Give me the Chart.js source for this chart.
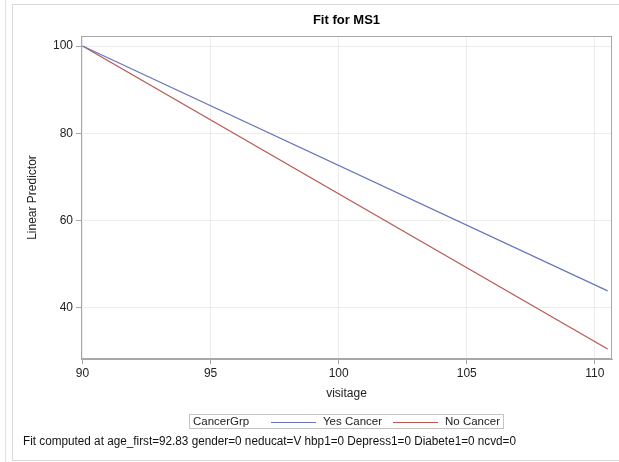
<!DOCTYPE html>
<html lang="en">
<head>
    <meta charset="UTF-8">
    <title>Fit for MS1</title>
    <script src="https://cdn.jsdelivr.net/npm/chart.js@4.4.1/dist/chart.umd.min.js"></script>
    <style>
        html, body { margin: 0; padding: 0; background: #fff; }
        #wrap { width: 619px; height: 462px; position: relative; }
    </style>
</head>
<body>
<div id="wrap"><canvas id="fitChart"></canvas></div>
<script>
    // fitted linear predictor at both ends of the visitage range
    const visitage = [90, 110.5];
    const yesCancer = [100, 43.9];
    const noCancer = [100, 30.6];
    const groupLabels = ["Yes Cancer", "No Cancer"];
    const xTicks = [90, 95, 100, 105, 110];
    const yTicks = [40, 60, 80, 100];
    const footnote = "Fit computed at age_first=92.83 gender=0 neducat=V hbp1=0 Depress1=0 Diabete1=0 ncvd=0";

    const FONT = "Arial, 'Liberation Sans', sans-serif";

    function toPoints(ys){
        return visitage.map((x, i) => ({x: x, y: ys[i]}));
    }

    // frame, title, axis titles, legend and footnote drawn by hand
    const decorations = {
        id: "decorations",
        beforeDraw(chart){
            const ctx = chart.ctx;
            ctx.save();
            ctx.fillStyle = "#fff";
            ctx.fillRect(0, 0, chart.width, chart.height);
            ctx.strokeStyle = "#e2e2e2";
            ctx.lineWidth = 1;
            ctx.beginPath();
            ctx.moveTo(5.5, 0);
            ctx.lineTo(5.5, chart.height);
            ctx.stroke();
            ctx.strokeStyle = "#dadada";
            ctx.strokeRect(12.5, 4.5, chart.width + 5, 456);
            ctx.restore();
        },
        afterDraw(chart){
            const ctx = chart.ctx;
            const a = chart.chartArea;
            ctx.save();
            ctx.strokeStyle = "#a8a8a8";
            ctx.lineWidth = 1;
            ctx.strokeRect(Math.round(a.left) + 0.5, Math.round(a.top) + 0.5,
                Math.round(a.right - a.left) - 1, Math.round(a.bottom - a.top) - 1);

            ctx.fillStyle = "#000";
            ctx.textAlign = "center";
            ctx.textBaseline = "middle";
            ctx.font = "bold 13px " + FONT;
            ctx.fillText("Fit for MS1", (a.left + a.right) / 2, 20);

            ctx.fillStyle = "#222";
            ctx.font = "12px " + FONT;
            ctx.fillText("visitage", (a.left + a.right) / 2, 394);
            ctx.save();
            ctx.translate(33, (a.top + a.bottom) / 2);
            ctx.rotate(-Math.PI / 2);
            ctx.fillText("Linear Predictor", 0, 0);
            ctx.restore();

            // legend
            ctx.strokeStyle = "#c4c4c4";
            ctx.strokeRect(189.5, 414.5, 314, 14);
            ctx.textAlign = "left";
            ctx.fillStyle = "#222";
            ctx.font = "11.5px " + FONT;
            let x = 193;
            const ly = 422;
            ctx.fillText("CancerGrp", x, ly);
            x = 271;
            chart.data.datasets.forEach(ds => {
                ctx.strokeStyle = ds.borderColor;
                ctx.lineWidth = 1.2;
                ctx.beginPath();
                ctx.moveTo(x, ly + 0.5);
                ctx.lineTo(x + 45, ly + 0.5);
                ctx.stroke();
                ctx.fillText(ds.label, x + 52, ly);
                x += 122;
            });

            ctx.fillStyle = "#111";
            ctx.font = "12px " + FONT;
            ctx.fillText(footnote, 23, 442, 493);
            ctx.restore();
        }
    };

    new Chart("fitChart", {
        type: "line",
        data: {
            datasets: [{
                label: groupLabels[0],
                data: toPoints(yesCancer),
                borderColor: "#6676b8",
                borderWidth: 1.2,
                pointRadius: 0,
                fill: false
            }, {
                label: groupLabels[1],
                data: toPoints(noCancer),
                borderColor: "#b8564f",
                borderWidth: 1.2,
                pointRadius: 0,
                fill: false
            }]
        },
        options: {
            responsive: true,
            maintainAspectRatio: false,
            animation: false,
            layout: { padding: { left: 0, right: 7, top: 36, bottom: 0 } },
            plugins: {
                legend: { display: false },
                title: { display: false },
                tooltip: { enabled: false }
            },
            scales: {
                x: {
                    type: "linear",
                    min: 89.94,
                    max: 110.67,
                    afterBuildTicks: s => { s.ticks = xTicks.map(v => ({value: v})); },
                    afterFit: s => { s.height = 103; },
                    grid: { color: "#ececec", tickColor: "#a8a8a8", tickLength: 5 },
                    border: { color: "#a8a8a8" },
                    ticks: { color: "#222", font: { size: 12, family: FONT }, padding: 2, maxRotation: 0 }
                },
                y: {
                    min: 28.3,
                    max: 102.3,
                    afterBuildTicks: s => { s.ticks = yTicks.map(v => ({value: v})); },
                    afterFit: s => { s.width = 81; },
                    grid: { color: "#ececec", tickColor: "#a8a8a8", tickLength: 5 },
                    border: { color: "#a8a8a8" },
                    ticks: { color: "#222", font: { size: 12, family: FONT }, padding: 3 }
                }
            }
        },
        plugins: [decorations]
    });
</script>
</body>
</html>
